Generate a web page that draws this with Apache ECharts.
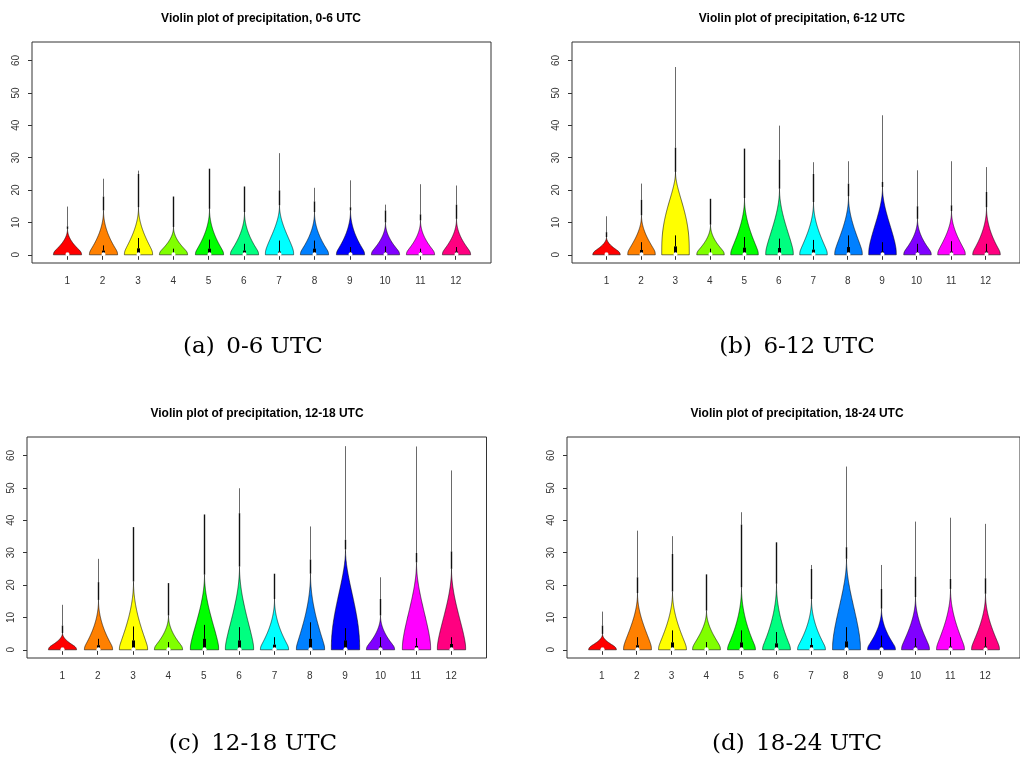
<!DOCTYPE html>
<html><head><meta charset="utf-8">
<script src="https://cdn.jsdelivr.net/npm/echarts@6/dist/echarts.min.js"></script>
<style>html,body{margin:0;padding:0;background:#fff}#c{width:1020px;height:758px}</style>
</head><body><div id="c"></div>
<script>
// ---- data ----
const months = ['1','2','3','4','5','6','7','8','9','10','11','12'];
const periods = ['0-6 UTC','6-12 UTC','12-18 UTC','18-24 UTC'];
const captionLetters = ['(a)','(b)','(c)','(d)'];
const yTicks = [0,10,20,30,40,50,60];
const monthColors = ['#FF0000','#FF8000','#FFFF00','#80FF00','#00FF00','#00FF80','#00FFFF','#0080FF','#0000FF','#8000FF','#FF00FF','#FF0080'];

// maximum (top of the thin tail line), per panel
const maxA = [14.9, 23.5, 26.0, 18.0, 26.6, 21.1, 31.4, 20.7, 23.0, 15.5, 21.8, 21.4];
const maxB = [11.9, 22.0, 58.0, 17.3, 32.8, 39.9, 28.6, 28.9, 43.1, 26.1, 28.9, 27.1];
const maxC = [13.9, 28.1, 37.9, 20.6, 41.8, 49.9, 23.5, 38.1, 62.9, 22.4, 62.8, 55.4];
const maxD = [11.8, 36.8, 35.1, 23.3, 42.5, 33.2, 26.2, 56.6, 26.2, 39.6, 40.8, 38.9];
// top of the dense (dark) part of the tail
const darkA = [8.8, 18.0, 25.0, 18.0, 26.6, 21.1, 19.9, 16.5, 14.7, 13.7, 12.5, 15.5];
const darkB = [7.0, 17.0, 33.1, 17.3, 32.8, 29.4, 25.0, 22.0, 22.5, 15.0, 15.3, 19.4];
const darkC = [7.5, 20.9, 37.9, 20.6, 41.8, 42.2, 23.5, 27.9, 34.0, 15.7, 29.9, 30.4];
const darkD = [7.5, 22.4, 29.6, 23.3, 38.7, 33.2, 25.0, 31.7, 18.8, 22.6, 21.9, 22.1];
// top of the coloured violin body
const bodyA = [8.0, 13.7, 14.7, 8.6, 14.2, 13.2, 15.3, 13.2, 13.7, 10.0, 10.6, 11.1];
const bodyB = [5.5, 12.2, 25.6, 9.3, 17.5, 20.4, 16.3, 18.1, 20.9, 11.1, 13.5, 14.7];
const bodyC = [5.2, 15.4, 21.1, 10.6, 23.2, 25.7, 15.7, 23.5, 31.0, 10.6, 27.0, 25.0];
const bodyD = [4.9, 17.5, 18.0, 12.1, 19.3, 20.4, 15.7, 28.1, 12.7, 16.3, 18.8, 17.3];
// upper whisker
const whiskA = [0.8, 2.9, 5.2, 1.9, 4.7, 3.4, 4.4, 4.4, 2.4, 2.6, 1.9, 2.4];
const whiskB = [0.8, 3.9, 6.0, 1.9, 5.5, 5.0, 4.6, 6.0, 3.9, 3.4, 4.2, 3.4];
const whiskC = [0.8, 3.4, 7.2, 2.4, 7.7, 7.0, 3.9, 8.5, 6.7, 3.9, 3.6, 3.9];
const whiskD = [0.8, 3.9, 6.0, 2.4, 6.0, 5.5, 3.6, 7.0, 4.4, 3.6, 3.9, 3.9];
// third quartile (box top)
const q3A = [0.5, 1.3, 2.0, 0.5, 1.9, 1.3, 1.0, 1.9, 0.8, 0.8, 0.8, 1.0];
const q3B = [0.4, 1.5, 2.6, 0.5, 2.2, 2.1, 1.6, 2.4, 1.0, 0.8, 1.0, 1.0];
const q3C = [0.4, 1.4, 2.9, 0.5, 3.4, 2.9, 1.6, 3.4, 2.9, 1.0, 1.2, 1.8];
const q3D = [0.4, 1.4, 2.3, 0.5, 2.3, 2.0, 1.5, 2.6, 1.0, 1.0, 1.0, 1.0];
// median
const medA = [0.2, 0.2, 0.2, 0.2, 0.2, 0.2, 0.2, 0.2, 0.2, 0.2, 0.2, 0.2];
const medB = [0.2, 0.2, 0.2, 0.2, 0.2, 0.2, 0.2, 0.2, 0.2, 0.2, 0.2, 0.2];
const medC = [0.2, 0.2, 0.2, 0.2, 0.2, 0.2, 0.2, 0.2, 0.2, 0.2, 0.2, 0.2];
const medD = [0.2, 0.2, 0.2, 0.2, 0.2, 0.2, 0.2, 0.2, 0.2, 0.2, 0.2, 0.2];
// density shape (shoulder fullness of the body)
const shapeA = [1.0, 1.0, 1.1, 1.0, 1.0, 1.0, 1.3, 1.0, 1.0, 1.0, 1.0, 1.0];
const shapeB = [1.0, 1.1, 2.4, 1.0, 1.1, 1.3, 1.1, 1.2, 1.5, 1.0, 1.1, 1.0];
const shapeC = [1.0, 1.0, 1.1, 1.0, 1.3, 1.3, 1.0, 1.1, 1.9, 1.0, 1.5, 1.4];
const shapeD = [1.0, 1.2, 1.1, 1.1, 1.0, 1.0, 1.0, 1.6, 1.0, 1.1, 1.1, 1.1];

const panelMax = [maxA, maxB, maxC, maxD];
const panelDark = [darkA, darkB, darkC, darkD];
const panelBody = [bodyA, bodyB, bodyC, bodyD];
const panelWhisk = [whiskA, whiskB, whiskC, whiskD];
const panelQ3 = [q3A, q3B, q3C, q3D];
const panelMed = [medA, medB, medC, medD];
const panelShape = [shapeA, shapeB, shapeC, shapeD];

// ---- layout / style ----
const grids = [
  {left: 32, top: 42, width: 459, height: 221},
  {left: 572, top: 42, width: 459.5, height: 221},
  {left: 27, top: 437, width: 459.5, height: 221},
  {left: 567, top: 437, width: 460, height: 221}
];
const titlePos = [[261, 19], [802, 19], [257, 414], [797, 414]];
const captionPos = [[253, 347], [797, 347], [253, 744], [797, 744]];
const SANS = 'Liberation Sans, Arial, sans-serif';
const tickVals = months.map((m, i) => i + 1);
const SKIRT = 0.9, ROUND = 0.6, TAPER = 2.0;

function renderViolin(params, api) {
  const x = api.value(0);
  const vMax = api.value(1), vDark = api.value(2), vBody = api.value(3);
  const vWhisk = api.value(4), vQ3 = api.value(5), vMed = api.value(6), shp = api.value(7);
  const col = monthColors[x - 1];
  const base = api.coord([x, 0]);
  const cx = Math.round(base[0]) + 0.5;
  const halfW = api.size([0.4, 0])[0];
  const N = 80;
  const leftPts = [], rightPts = [];
  const span = vBody - SKIRT;
  const sm = d => (d + Math.sqrt(d * d + ROUND * ROUND)) / 2;
  const s0 = sm(-SKIRT), s1 = sm(span);
  for (let k = 0; k <= N; k++) {
    const y = vBody * k / N;
    let tp = (sm(y - SKIRT) - s0) / (s1 - s0);
    tp = Math.min(1, Math.max(0, tp));
    const h = halfW * Math.pow(1 - Math.pow(tp, shp), TAPER);
    const py = api.coord([x, y])[1];
    leftPts.push([cx - h, py]);
    rightPts.unshift([cx + h, py]);
  }
  const yBody = api.coord([x, vBody])[1];
  const yDark = api.coord([x, vDark])[1];
  const yMax = api.coord([x, vMax])[1];
  const yQ3 = api.coord([x, vQ3])[1];
  const yW = api.coord([x, vWhisk])[1];
  const y0 = base[1];
  const children = [
    {type: 'polygon', shape: {points: leftPts.concat(rightPts)},
     style: {fill: col, stroke: 'rgba(0,0,0,0.7)', lineWidth: 0.8}},
    {type: 'line', shape: {x1: cx, y1: yDark, x2: cx, y2: yMax},
     style: {stroke: '#6a6a6a', lineWidth: 1}},
    {type: 'line', shape: {x1: cx, y1: yBody, x2: cx, y2: yDark},
     style: {stroke: '#111', lineWidth: 1.4}},
    {type: 'line', shape: {x1: cx, y1: yQ3, x2: cx, y2: yW},
     style: {stroke: '#000', lineWidth: 1}},
    {type: 'rect', shape: {x: cx - 1.5, y: yQ3, width: 3, height: y0 - yQ3},
     style: {fill: '#000'}},
    {type: 'circle', shape: {cx: cx, cy: api.coord([x, vMed])[1], r: 2},
     style: {fill: '#fff'}}
  ];
  return {type: 'group', children: children};
}

const xAxes = [], yAxes = [], series = [], graphics = [];
grids.forEach((g, gi) => {
  xAxes.push({
    gridIndex: gi, type: 'value', min: 0, max: 13,
    axisLine: {show: false}, splitLine: {show: false},
    axisTick: {show: true, customValues: tickVals, length: 5, lineStyle: {color: '#333'}},
    axisLabel: {customValues: tickVals, formatter: v => months[v - 1], fontSize: 10,
      color: '#333', margin: 13, fontFamily: SANS}
  });
  yAxes.push({
    gridIndex: gi, type: 'value', min: -2.53, max: 65.73,
    axisLine: {show: false}, splitLine: {show: false},
    axisTick: {show: true, customValues: yTicks, length: 4, lineStyle: {color: '#333'}},
    axisLabel: {customValues: yTicks, rotate: 90, fontSize: 10, color: '#333',
      margin: 11, fontFamily: SANS}
  });
  const rows = months.map((m, i) => [i + 1, panelMax[gi][i], panelDark[gi][i], panelBody[gi][i],
    panelWhisk[gi][i], panelQ3[gi][i], panelMed[gi][i], panelShape[gi][i]]);
  series.push({type: 'custom', xAxisIndex: gi, yAxisIndex: gi, data: rows,
    renderItem: renderViolin, clip: false, silent: true, animation: false});
  graphics.push({type: 'text', x: titlePos[gi][0], y: titlePos[gi][1],
    style: {text: 'Violin plot of precipitation, ' + periods[gi], align: 'center', verticalAlign: 'middle',
      textAlign: 'center', textVerticalAlign: 'middle',
      font: 'bold 12px Liberation Sans, Arial, sans-serif', fill: '#000'}});
  graphics.push({type: 'text', x: captionPos[gi][0], y: captionPos[gi][1],
    style: {text: captionLetters[gi] + '\u2002' + periods[gi], align: 'center', verticalAlign: 'middle',
      textAlign: 'center', textVerticalAlign: 'middle',
      font: '23px DejaVu Serif, serif', fill: '#000'}});
});

const chart = echarts.init(document.getElementById('c'), null, {renderer: 'canvas'});
chart.setOption({
  animation: false,
  backgroundColor: '#fff',
  grid: grids.map(g => Object.assign({show: true, borderColor: '#333', borderWidth: 1,
    backgroundColor: 'transparent', containLabel: false}, g)),
  xAxis: xAxes,
  yAxis: yAxes,
  series: series,
  graphic: graphics
});
</script></body></html>
